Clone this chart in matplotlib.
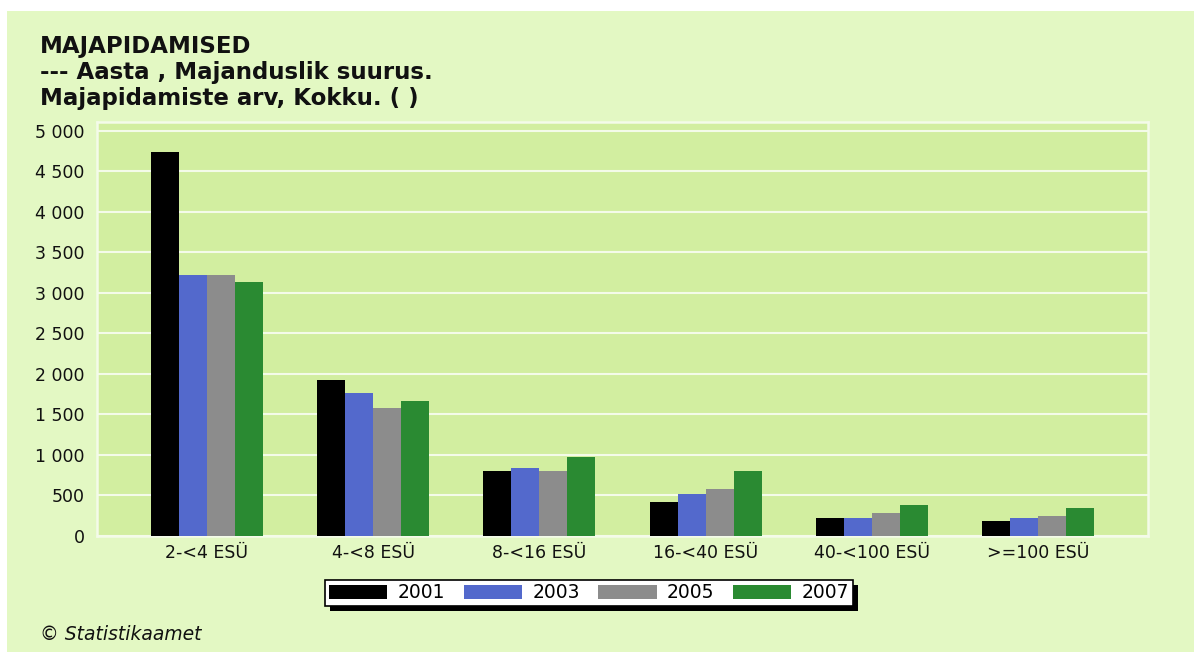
import matplotlib
matplotlib.use("Agg")
import numpy as np
import matplotlib.pyplot as plt
from matplotlib.patches import Rectangle
from matplotlib.ticker import FuncFormatter

# Andmed
categories = ["2-<4 ESÜ", "4-<8 ESÜ", "8-<16 ESÜ", "16-<40 ESÜ", "40-<100 ESÜ", ">=100 ESÜ"]
years = ["2001", "2003", "2005", "2007"]
v2001 = [4740, 1920, 800, 425, 222, 182]
v2003 = [3220, 1762, 843, 522, 222, 222]
v2005 = [3220, 1586, 802, 585, 280, 247]
v2007 = [3140, 1665, 980, 802, 383, 342]
colors = ["#000000", "#5369cc", "#8c8c8c", "#2a8a32"]

fig = plt.figure(figsize=(11.94, 6.52), dpi=100, facecolor="white")
# hele roheline taust
fig.patches.append(Rectangle((7 / 1194, 0), 1, 1 - 11 / 652, transform=fig.transFigure,
                             facecolor="#e3f8c3", edgecolor="none", zorder=-5))

ax = fig.add_axes([97 / 1194, 1 - 536 / 652, (1148 - 97) / 1194, (536 - 122) / 652])
ax.set_facecolor("#d2eea0")

x = np.arange(len(categories))
w = 0.168
for i, (vals, c) in enumerate(zip([v2001, v2003, v2005, v2007], colors)):
    ax.bar(x + (i - 1.5) * w, vals, width=w, color=c, label=years[i], zorder=3)

ax.set_xlim(-0.66, len(categories) - 1 + 0.66)
ax.set_ylim(0, 5111)
ax.set_yticks(np.arange(0, 5001, 500))
ax.yaxis.set_major_formatter(FuncFormatter(lambda v, p: f"{int(v):,}".replace(",", " ")))
ax.set_xticks(x)
ax.set_xticklabels(categories)
ax.grid(axis="y", color="#f4fbe9", linewidth=1.5, zorder=1)
ax.tick_params(length=0, labelsize=12.5, colors="#111111")
ax.tick_params(axis="y", pad=9)
ax.tick_params(axis="x", pad=6)
for s in ax.spines.values():
    s.set_color("#f4fbe9")
    s.set_linewidth(1.8)

# pealkiri
title_lines = ["MAJAPIDAMISED", "--- Aasta , Majanduslik suurus.", "Majapidamiste arv, Kokku. ( )"]
for k, line in enumerate(title_lines):
    fig.text(40 / 1194, 1 - (53 + 26 * k) / 652, line, fontsize=16.5, fontweight="bold",
             va="baseline", ha="left", color="#111111")

# legend
leg = fig.legend(loc="center", bbox_to_anchor=(589 / 1194, 1 - 593 / 652), ncol=4,
                 fontsize=13.5, frameon=True, fancybox=False, edgecolor="black",
                 facecolor="white", framealpha=1, handlelength=3.1, handleheight=0.7,
                 handletextpad=0.55, columnspacing=1.0, borderpad=0.2, borderaxespad=0)
leg.get_frame().set_linewidth(1.2)
leg.set_zorder(5)
fig.canvas.draw()
bb = leg.get_window_extent()
fig.patches.append(Rectangle((bb.x0 + 5, bb.y0 - 5), bb.width, bb.height, transform=None,
                             facecolor="black", edgecolor="none", zorder=4))

fig.text(40 / 1194, 1 - 634 / 652, "© Statistikaamet", fontsize=13.5, fontstyle="italic",
         va="center", ha="left", color="#111111")

fig.savefig("out.png", dpi=100, facecolor=fig.get_facecolor())
